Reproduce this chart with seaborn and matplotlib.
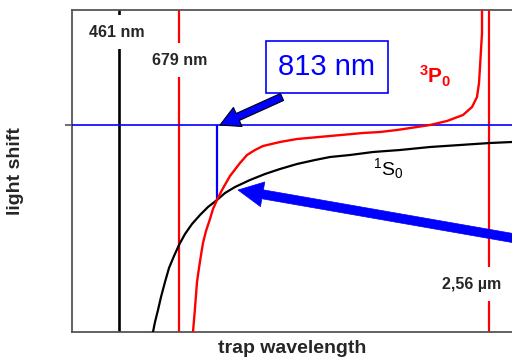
import matplotlib
matplotlib.use("Agg")
import matplotlib.pyplot as plt
import seaborn as sns

sns.set_style("white")
plt.rcParams['font.family'] = ['Liberation Sans', 'DejaVu Sans']
plt.rcParams['mathtext.fontset'] = 'custom'
plt.rcParams['mathtext.rm'] = 'Liberation Sans'
plt.rcParams['mathtext.bf'] = 'Liberation Sans:bold'

# light shift curves, arbitrary units
s0_x = [2.025, 2.075, 2.15, 2.225, 2.325, 2.425, 2.55, 2.675, 2.825, 3.0, 3.2, 3.4, 3.625,
        3.825, 4.075, 4.45, 4.825, 5.2, 5.625, 6.075, 6.45, 6.95, 7.525, 8.2, 8.95, 9.7, 10.45, 11.0]
s0_y = [-10.35, -9.85, -9.25, -8.6, -7.85, -7.15, -6.55, -6.0, -5.45, -4.95, -4.5, -4.1, -3.75,
        -3.4, -3.1, -2.75, -2.45, -2.2, -1.95, -1.75, -1.6, -1.5, -1.35, -1.25, -1.1, -1.0, -0.9, -0.85]

p0_x = [3.025, 3.05, 3.075, 3.1, 3.125, 3.175, 3.225, 3.275, 3.35, 3.45, 3.525, 3.625, 3.75,
        3.95, 4.2, 4.375, 4.575, 4.775, 5.2, 5.625, 6.45, 7.275, 7.7, 8.125, 8.625, 8.95,
        9.375, 9.775, 10.0, 10.125, 10.175, 10.2, 10.225, 10.25, 10.25]
p0_y = [-10.35, -9.75, -9.15, -8.5, -7.85, -7.15, -6.5, -5.9, -5.3, -4.7, -4.2, -3.75, -3.25,
        -2.55, -1.9, -1.5, -1.25, -1.05, -0.85, -0.7, -0.55, -0.4, -0.35, -0.25, -0.1, 0.0,
        0.2, 0.5, 0.9, 1.4, 2.1, 2.9, 3.75, 4.6, 5.75]

# resonances
res_x = [1.175, 2.675, 10.425]
res_labels = ["461 nm", "679 nm", "2,56 µm"]
res_colors = ["black", "red", "red"]

# magic wavelength crossing
magic_x = 3.625
magic_y = -3.75
magic_label = "813 nm"

fig = plt.figure(figsize=(5.12, 3.62), dpi=100)
ax = fig.add_axes([72 / 512, 30 / 362, 440 / 512, 322 / 362])

for x, c in zip(res_x, res_colors):
    ax.axvline(x, color=c, lw=1.6 if c == "red" else 1.9, zorder=2)

ax.axhline(0, color="blue", lw=1.2, zorder=3)
ax.vlines(magic_x, magic_y, 0, color="blue", lw=1.6, zorder=3)

sns.lineplot(x=s0_x, y=s0_y, sort=False, estimator=None, color="black", lw=1.6, ax=ax, zorder=4)
sns.lineplot(x=p0_x, y=p0_y, sort=False, estimator=None, color="red", lw=1.7, ax=ax, zorder=4)

box = dict(boxstyle="square,pad=0.6", fc="white", ec="none")
ax.text(1.13, 4.65, res_labels[0], fontsize=11.5, fontweight="bold", ha="center", va="center", bbox=box, zorder=5)
ax.text(2.7, 3.25, res_labels[1], fontsize=11.5, fontweight="bold", ha="center", va="center", bbox=box, zorder=5)
ax.text(10.0, -7.95, res_labels[2], fontsize=11.5, fontweight="bold", ha="center", va="center", bbox=box, zorder=5)

ax.text(6.375, 2.9, magic_label, fontsize=21, color="blue", ha="center", va="center",
        bbox=dict(boxstyle="square,pad=0.42", fc="white", ec="blue", lw=1.2), zorder=6)

ax.text(8.68, 2.1, r"$\mathbf{{}^{3}P_{0}}$", fontsize=15, color="red", ha="left", va="baseline", zorder=6)
ax.text(7.53, -2.5, r"$\mathrm{{}^{1}S_{0}}$", fontsize=14, color="black", ha="left", va="baseline", zorder=6)

# arrows pointing to the magic crossing
ax.annotate("", xy=(3.7, 0.0), xytext=(5.25, 1.4),
            arrowprops=dict(arrowstyle="simple,head_length=1.4,head_width=1.5,tail_width=0.55",
                            fc="blue", ec="black", lw=0.8, shrinkA=0, shrinkB=0), zorder=7)
ax.annotate("", xy=(4.15, -3.25), xytext=(11.3, -5.75), annotation_clip=False,
            arrowprops=dict(arrowstyle="simple,head_length=1.8,head_width=1.8,tail_width=0.65",
                            fc="blue", ec="blue", lw=0.5, shrinkA=0, shrinkB=0), zorder=7)

ax.set_xlim(0, 11)
ax.set_ylim(-10.35, 5.75)
ax.set_xticks([])
ax.set_yticks([0])
ax.set_yticklabels([])
ax.tick_params(axis="y", direction="out", length=5, width=1.2, color="#555555", left=True)
for s in ["left", "bottom", "top"]:
    ax.spines[s].set_color("#555555")
    ax.spines[s].set_linewidth(1.3)
ax.spines["right"].set_visible(False)

ax.set_xlabel("trap wavelength", fontsize=14, fontweight="bold", labelpad=6)
ax.set_ylabel("light shift", fontsize=14, fontweight="bold", labelpad=26)

fig.savefig("out.png", dpi=100)
